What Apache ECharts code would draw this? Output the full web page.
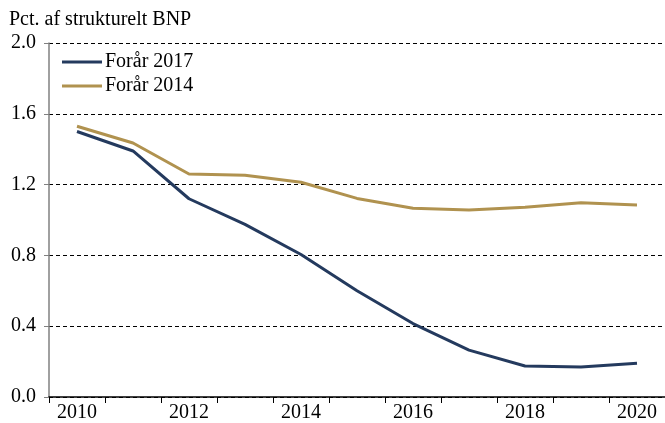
<!DOCTYPE html>
<html>
<head>
<meta charset="utf-8">
<script src="https://cdn.jsdelivr.net/npm/echarts@6/dist/echarts.min.js"></script>
<style>
  html, body { margin: 0; padding: 0; background: #fff; }
  #main { width: 665px; height: 423px; }
</style>
</head>
<body>
<div id="main"></div>
<script>
// data
var years = ['2010', '2011', '2012', '2013', '2014', '2015', '2016', '2017', '2018', '2019', '2020'];
var foraar2017 = [1.50, 1.39, 1.12, 0.975, 0.805, 0.60, 0.415, 0.265, 0.175, 0.17, 0.19];
var foraar2014 = [1.53, 1.435, 1.26, 1.253, 1.213, 1.122, 1.066, 1.057, 1.072, 1.097, 1.085];

var myChart = echarts.init(document.getElementById('main'));
var font = '"Liberation Serif", "Times New Roman", serif';

var option = {
    backgroundColor: '#fff',
    animation: false,
    textStyle: { fontFamily: font },
    title: {
        text: 'Pct. af strukturelt BNP',
        left: 4,
        top: 5,
        textStyle: { fontFamily: font, fontSize: 20, fontWeight: 'normal', color: '#000' }
    },
    legend: {
        orient: 'vertical',
        left: 57,
        top: 47,
        itemWidth: 40,
        itemHeight: 3,
        itemGap: 4,
        icon: 'rect',
        textStyle: { fontFamily: font, fontSize: 20, color: '#000', padding: [0, 0, 0, -2] },
        data: ['Forår 2017', 'Forår 2014']
    },
    grid: {
        left: 49,
        top: 43,
        width: 620,
        height: 354
    },
    xAxis: {
        type: 'category',
        data: years,
        boundaryGap: true,
        axisLine: { lineStyle: { color: '#000', width: 1.5 } },
        axisTick: { show: true, length: 6, alignWithLabel: false, interval: 0, lineStyle: { color: '#000' } },
        axisLabel: { interval: 1, color: '#000', fontSize: 20, fontFamily: font, margin: 6 },
        splitLine: { show: false }
    },
    yAxis: {
        type: 'value',
        min: 0,
        max: 2,
        interval: 0.4,
        axisLine: { show: true, lineStyle: { color: '#808080', width: 1.5 } },
        axisTick: { show: true, length: 5, lineStyle: { color: '#808080' } },
        axisLabel: {
            color: '#000', fontSize: 20, fontFamily: font, margin: 13,
            formatter: function (v) { return v.toFixed(1); }
        },
        splitLine: { show: true, lineStyle: { color: '#000', type: [4, 3], width: 1 } }
    },
    series: [{
        name: 'Forår 2017',
        type: 'line',
        data: foraar2017,
        symbol: 'none',
        color: '#243a5e',
        lineStyle: { width: 3, color: '#243a5e' },
        z: 3
    }, {
        name: 'Forår 2014',
        type: 'line',
        data: foraar2014,
        symbol: 'none',
        color: '#b0924f',
        lineStyle: { width: 3, color: '#b0924f' },
        z: 2
    }]
};

myChart.setOption(option);
</script>
</body>
</html>
